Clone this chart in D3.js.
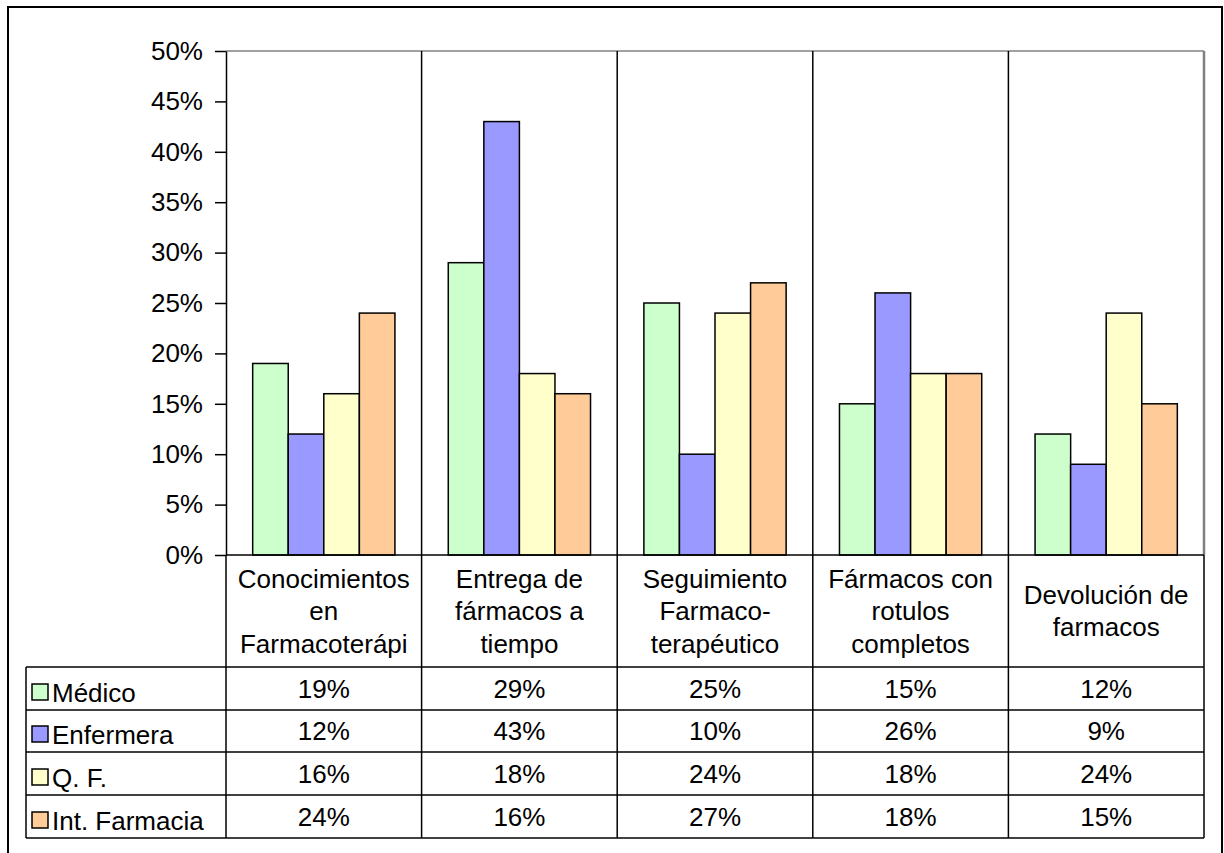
<!DOCTYPE html>
<html>
<head>
<meta charset="utf-8">
<style>
  body { margin: 0; background: #fff; }
  svg text { font-family: "Liberation Sans", Arial, sans-serif; fill: #000; }
  .axis path, .axis line { stroke: #000; stroke-width: 1.5; }
  .axis text { font-size: 26px; }
  line.grid { stroke: #000; stroke-width: 1.5; }
  rect.bar { stroke: #000; stroke-width: 1.5; }
  .cell { font-size: 26px; text-anchor: middle; }
</style>
</head>
<body>
<svg id="chart" width="1224" height="853"></svg>
<script src="https://cdn.jsdelivr.net/npm/d3@7"></script>
<script>
var categories = [
  ['Conocimientos', 'en', 'Farmacoterápi'],
  ['Entrega de', 'fármacos a', 'tiempo'],
  ['Seguimiento', 'Farmaco-', 'terapéutico'],
  ['Fármacos con', 'rotulos', 'completos'],
  ['Devolución de', 'farmacos']
];
var seriesNames = ['Médico', 'Enfermera', 'Q. F.', 'Int. Farmacia'];
var medico = [0.19, 0.29, 0.25, 0.15, 0.12];
var enfermera = [0.12, 0.43, 0.10, 0.26, 0.09];
var qf = [0.16, 0.18, 0.24, 0.18, 0.24];
var intFarmacia = [0.24, 0.16, 0.27, 0.18, 0.15];
var colors = ['#ccffcc', '#9999ff', '#ffffcc', '#ffcc99'];
var yTicks = [0, 0.05, 0.10, 0.15, 0.20, 0.25, 0.30, 0.35, 0.40, 0.45, 0.50];

var series = [medico, enfermera, qf, intFarmacia];

var plotLeft = 226, plotRight = 1204, plotTop = 51, plotBottom = 555;
var rowEdges = [667, 710, 752, 795, 838];  //table rows below header
var legendLeft = 26;

var svg = d3.select('#chart');

//outer frame
svg.append('rect')
  .attr('x', 8).attr('y', 7)
  .attr('width', 1214).attr('height', 860)
  .attr('fill', 'none')
  .attr('stroke', '#000')
  .attr('stroke-width', 2);

var x = d3.scaleBand()
  .domain(d3.range(categories.length))
  .range([plotLeft, plotRight]);

var step = x.bandwidth();
var barW = step / 5.5;  //gap width 150%
var xs = d3.scaleBand()
  .domain(d3.range(series.length))
  .range([barW * 0.75, step - barW * 0.75]);

var y = d3.scaleLinear().domain([0, 0.5]).range([plotBottom, plotTop]);

//plot area top / right edge (grey)
svg.append('line')
  .attr('x1', plotLeft).attr('x2', plotRight)
  .attr('y1', plotTop).attr('y2', plotTop)
  .attr('stroke', '#808080').attr('stroke-width', 1.5);
svg.append('line')
  .attr('x1', plotRight).attr('x2', plotRight)
  .attr('y1', plotTop).attr('y2', plotBottom)
  .attr('stroke', '#808080').attr('stroke-width', 2.5);

//category dividers, running down through the table
svg.selectAll('line.grid')
  .data(d3.range(1, categories.length + 1))
  .enter()
  .append('line')
  .attr('class', 'grid')
  .attr('x1', d => x(d - 1) + step)
  .attr('x2', d => x(d - 1) + step)
  .attr('y1', d => d === categories.length ? plotBottom : plotTop)
  .attr('y2', rowEdges[rowEdges.length - 1]);

//bars
var groups = svg.selectAll('g.cat')
  .data(categories.map((c, i) => i))
  .enter()
  .append('g')
  .attr('class', 'cat')
  .attr('transform', d => 'translate(' + x(d) + ',0)');

groups.selectAll('rect')
  .data(ci => series.map((s, si) => ({ si: si, v: s[ci] })))
  .enter()
  .append('rect')
  .attr('class', 'bar')
  .attr('x', d => xs(d.si))
  .attr('width', xs.bandwidth())
  .attr('y', d => y(d.v))
  .attr('height', d => plotBottom - y(d.v))
  .attr('fill', d => colors[d.si]);

//y axis
svg.append('g')
  .attr('class', 'axis')
  .attr('transform', 'translate(' + plotLeft + ',0)')
  .call(d3.axisLeft(y).tickValues(yTicks).tickFormat(d3.format('.0%')).tickSize(11).tickSizeOuter(0).tickPadding(12));

//table lines
var tbl = svg.append('g');
tbl.append('line')
  .attr('x1', plotLeft).attr('x2', plotRight)
  .attr('y1', plotBottom).attr('y2', plotBottom)
  .attr('stroke', '#000').attr('stroke-width', 1.5);
tbl.selectAll('line.row')
  .data(rowEdges)
  .enter()
  .append('line')
  .attr('class', 'row')
  .attr('x1', legendLeft).attr('x2', plotRight)
  .attr('y1', d => d).attr('y2', d => d)
  .attr('stroke', '#000').attr('stroke-width', 1.5);
tbl.append('line')
  .attr('x1', legendLeft).attr('x2', legendLeft)
  .attr('y1', rowEdges[0]).attr('y2', rowEdges[rowEdges.length - 1])
  .attr('stroke', '#000').attr('stroke-width', 1.5);
tbl.append('line')
  .attr('x1', plotLeft).attr('x2', plotLeft)
  .attr('y1', plotBottom).attr('y2', rowEdges[rowEdges.length - 1])
  .attr('stroke', '#000').attr('stroke-width', 1.5);

//category headers
var lineH = 32.5;
svg.selectAll('text.head')
  .data(categories)
  .enter()
  .append('text')
  .attr('class', 'cell head')
  .attr('transform', (d, i) => {
    var cy = (plotBottom + rowEdges[0]) / 2 - (d.length - 1) * lineH / 2;
    return 'translate(' + (x(i) + step / 2) + ',' + (cy + 9) + ')';
  })
  .selectAll('tspan')
  .data(d => d)
  .enter()
  .append('tspan')
  .attr('x', 0)
  .attr('y', (d, i) => i * lineH)
  .text(d => d);

//table rows: legend keys, names, values
series.forEach((s, si) => {
  var y0 = rowEdges[si], y1 = rowEdges[si + 1];
  svg.append('rect')
    .attr('x', 32).attr('y', y1 - 26)
    .attr('width', 16).attr('height', 16)
    .attr('fill', colors[si])
    .attr('stroke', '#000').attr('stroke-width', 1.5);
  svg.append('text')
    .attr('x', 52).attr('y', y1 - 8)
    .style('font-size', '26px')
    .text(seriesNames[si]);
  svg.selectAll('text.val' + si)
    .data(s)
    .enter()
    .append('text')
    .attr('class', 'cell val' + si)
    .attr('x', (d, i) => x(i) + step / 2)
    .attr('y', (y0 + y1) / 2 + 9)
    .text(d => d3.format('.0%')(d));
});
</script>
</body>
</html>
